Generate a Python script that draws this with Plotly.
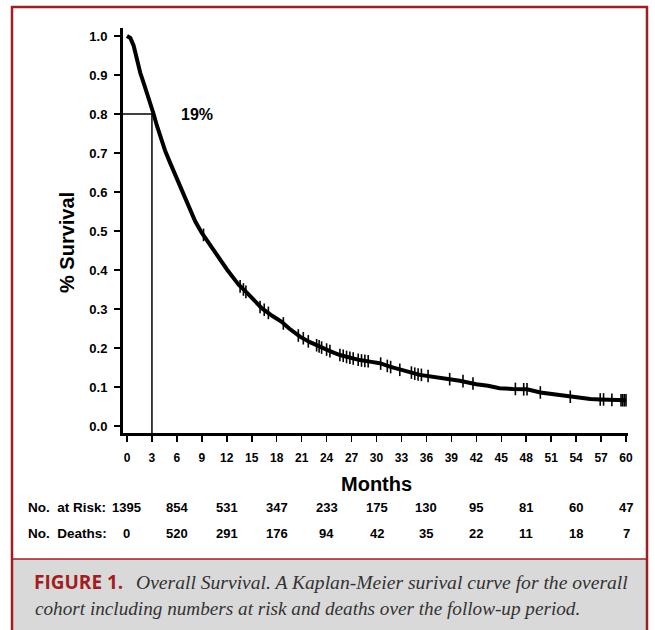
import plotly.graph_objects as go

# ---------------- data ----------------
months = [0, 0.4, 0.8, 1.2, 1.6, 2.0, 2.4, 2.8, 3.2, 3.6, 4.0, 4.6, 5.2, 5.8, 6.2, 6.8,
          7.6, 8.2, 9.0, 9.8, 10.5, 11.0, 12.0, 13.0, 13.4, 14.5, 15.3, 16.2, 17.5, 18.6,
          19.5, 20.8, 22.0, 23.2, 24.4, 25.6, 26.8, 28.0, 29.2, 30.4, 31.6, 32.8, 34.0,
          35.2, 36.4, 37.6, 38.8, 40.0, 41.0, 42.0, 43.4, 44.8, 46.4, 48.1, 49.7, 51.0,
          52.1, 53.3, 54.5, 55.7, 56.9, 58.2, 60.0]
survival = [1.000, 0.995, 0.975, 0.935, 0.905, 0.880, 0.855, 0.825, 0.800, 0.770, 0.742,
            0.705, 0.674, 0.644, 0.624, 0.592, 0.552, 0.525, 0.495, 0.469, 0.448, 0.433,
            0.402, 0.374, 0.363, 0.340, 0.322, 0.302, 0.282, 0.267, 0.250, 0.229, 0.215,
            0.203, 0.192, 0.182, 0.175, 0.169, 0.165, 0.161, 0.152, 0.144, 0.138, 0.131,
            0.128, 0.125, 0.120, 0.116, 0.111, 0.107, 0.103, 0.097, 0.095, 0.094, 0.086,
            0.082, 0.079, 0.075, 0.071, 0.069, 0.068, 0.067, 0.066]

censor_months = [9.2, 13.6, 14.0, 14.3, 16.0, 16.5, 17.0, 18.8, 20.6, 21.2, 21.8, 22.8,
                 23.1, 23.4, 24.0, 24.4, 25.6, 26.0, 26.4, 26.8, 27.2, 27.8, 28.2, 28.6,
                 29.0, 30.5, 31.3, 31.7, 32.8, 34.2, 34.6, 35.0, 35.4, 36.2, 38.8, 40.4,
                 41.6, 46.7, 47.7, 48.1, 49.7, 53.3, 56.9, 57.3, 58.3, 59.4, 59.6, 59.8, 60.0]
censor_survival = [0.490, 0.358, 0.350, 0.344, 0.305, 0.298, 0.290, 0.263, 0.232, 0.225,
                   0.217, 0.207, 0.204, 0.201, 0.196, 0.192, 0.182, 0.180, 0.177, 0.175,
                   0.173, 0.170, 0.168, 0.167, 0.166, 0.160, 0.154, 0.151, 0.144, 0.137,
                   0.134, 0.132, 0.131, 0.128, 0.120, 0.115, 0.109, 0.095, 0.094, 0.094,
                   0.086, 0.075, 0.068, 0.068, 0.067, 0.066, 0.066, 0.066, 0.066]

x_ticks = list(range(0, 61, 3))
y_ticks = [0.0, 0.1, 0.2, 0.3, 0.4, 0.5, 0.6, 0.7, 0.8, 0.9, 1.0]

table_months = [0, 6, 12, 18, 24, 30, 36, 42, 48, 54, 60]
at_risk = [1395, 854, 531, 347, 233, 175, 130, 95, 81, 60, 47]
deaths = [0, 520, 291, 176, 94, 42, 35, 22, 11, 18, 7]

ref_month = 3
ref_survival = 0.8
ref_label = "19%"

caption_head = "FIGURE 1."
caption_line1 = "Overall Survival. A Kaplan-Meier surival curve for the overall"
caption_line2 = "cohort including numbers at risk and deaths over the follow-up period."

# ---------------- layout helpers ----------------
W, H = 655, 630
PL, PR, PT, PB = 123, 628, 28, 433


def px(xp):
    return (xp - PL) / (PR - PL)


def py(yp):
    return (PB - yp) / (PB - PT)


SANS = "Liberation Sans, Arial, sans-serif"
RED = "#a11d22"

fig = go.Figure()

fig.add_trace(go.Scatter(
    x=months, y=survival, mode="lines",
    line=dict(color="black", width=4), hoverinfo="skip", showlegend=False))

fig.add_trace(go.Scatter(
    x=censor_months, y=censor_survival, mode="markers",
    marker=dict(symbol="line-ns-open", size=9, color="black",
                line=dict(color="black", width=1.6)),
    hoverinfo="skip", showlegend=False))

# reference lines at 3 months / 0.8
fig.add_shape(type="line", xref="x", yref="y", x0=-0.5, x1=ref_month,
              y0=ref_survival, y1=ref_survival, line=dict(color="black", width=1.5))
fig.add_shape(type="line", xref="x", yref="y", x0=ref_month, x1=ref_month,
              y0=-0.02, y1=ref_survival, line=dict(color="black", width=1.5))

annotations = []
annotations.append(dict(x=px(197), y=py(115), xref="paper", yref="paper", text=ref_label,
                        showarrow=False, font=dict(family=SANS, size=16, color="black", weight="bold"),
                        xanchor="center", yanchor="middle"))
# axis titles
annotations.append(dict(x=30, y=py(484), xref="x", yref="paper", text="Months",
                        showarrow=False, font=dict(family=SANS, size=20, color="black", weight="bold"),
                        xanchor="center", yanchor="middle"))
annotations.append(dict(x=px(67), y=py(243), xref="paper", yref="paper", text="% Survival",
                        textangle=-90, showarrow=False,
                        font=dict(family=SANS, size=20, color="black", weight="bold"),
                        xanchor="center", yanchor="middle"))
# risk table
annotations.append(dict(x=px(26), y=py(507), xref="paper", yref="paper",
                        text="No.&nbsp; at Risk:",
                        showarrow=False, font=dict(family=SANS, size=13.5, color="black", weight="bold"),
                        xanchor="left", yanchor="middle"))
annotations.append(dict(x=px(26), y=py(533), xref="paper", yref="paper",
                        text="No.&nbsp; Deaths:",
                        showarrow=False, font=dict(family=SANS, size=13.5, color="black", weight="bold"),
                        xanchor="left", yanchor="middle"))
for m, r, d in zip(table_months, at_risk, deaths):
    annotations.append(dict(x=m, y=py(507), xref="x", yref="paper", text=str(r),
                            showarrow=False, font=dict(family=SANS, size=13, color="black", weight="bold"),
                            xanchor="center", yanchor="middle"))
    annotations.append(dict(x=m, y=py(533), xref="x", yref="paper", text=str(d),
                            showarrow=False, font=dict(family=SANS, size=13, color="black", weight="bold"),
                            xanchor="center", yanchor="middle"))
# caption
annotations.append(dict(x=px(32), y=py(582), xref="paper", yref="paper", text=caption_head,
                        showarrow=False,
                        font=dict(family="Open Sans, Noto Sans, sans-serif", size=19, color=RED, weight="bold"),
                        xanchor="left", yanchor="middle"))
annotations.append(dict(x=px(134), y=py(582), xref="paper", yref="paper", text=caption_line1,
                        showarrow=False,
                        font=dict(family="Liberation Serif, serif", size=19.6, color="#333333", style="italic"),
                        xanchor="left", yanchor="middle"))
annotations.append(dict(x=px(33), y=py(608), xref="paper", yref="paper", text=caption_line2,
                        showarrow=False,
                        font=dict(family="Liberation Serif, serif", size=19.2, color="#333333", style="italic"),
                        xanchor="left", yanchor="middle"))

# caption background & frame
fig.add_shape(type="rect", xref="paper", yref="paper", x0=px(12), x1=px(647),
              y0=py(640), y1=py(559), fillcolor="#d9d9d9", line=dict(width=0), layer="below")
fig.add_shape(type="line", xref="paper", yref="paper", x0=px(12), x1=px(647),
              y0=py(559), y1=py(559), line=dict(color=RED, width=1.5))
fig.add_shape(type="rect", xref="paper", yref="paper", x0=px(12), x1=px(647),
              y0=py(645), y1=py(7), fillcolor="rgba(0,0,0,0)", line=dict(color=RED, width=2.5))

fig.update_layout(
    width=W, height=H,
    margin=dict(l=PL, r=W - PR, t=PT, b=H - PB, pad=0),
    paper_bgcolor="white", plot_bgcolor="white",
    showlegend=False,
    annotations=annotations,
    xaxis=dict(range=[-0.48, 60.24], tickmode="array", tickvals=x_ticks,
               ticktext=[str(t) for t in x_ticks],
               showgrid=False, zeroline=False, showline=True, linecolor="black", linewidth=3,
               ticks="outside", ticklen=6, tickwidth=1.5, tickcolor="black",
               ticklabelstandoff=6,
               tickfont=dict(family=SANS, size=12, color="black", weight="bold")),
    yaxis=dict(range=[-0.018, 1.0205], tickmode="array", tickvals=y_ticks,
               ticktext=[f"{v:.1f}" for v in y_ticks],
               showgrid=False, zeroline=False, showline=True, linecolor="black", linewidth=3,
               ticks="outside", ticklen=6, tickwidth=1.5, tickcolor="black",
               ticklabelstandoff=4,
               tickfont=dict(family=SANS, size=13, color="black", weight="bold")),
)

fig.write_html("out.html", config={"displayModeBar": False, "staticPlot": True},
               post_script="document.body.style.margin='0';document.body.style.overflow='hidden';")
